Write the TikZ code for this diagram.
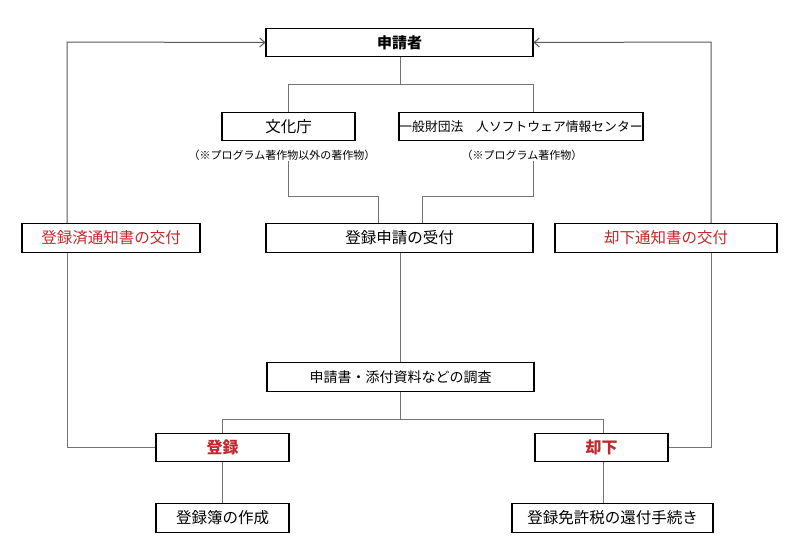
\documentclass[tikz,border=0pt]{standalone}
\usepackage{fontspec}
\setmainfont{Noto Sans CJK JP}
\usetikzlibrary{positioning,arrows.meta}
\definecolor{notered}{RGB}{192,40,45}
\tikzset{
  box/.style={draw, line width=1.1pt, inner sep=0pt, minimum height=28.5pt, font=\fontsize{15.5}{17}\selectfont},
  link/.style={draw=black!55, line width=0.9pt},
  back/.style={draw=black!65, line width=1pt, -{Straight Barb[length=5pt,width=9pt]}},
  note/.style={inner sep=1pt, font=\fontsize{11}{13}\selectfont}
}
\begin{document}
\begin{tikzpicture}[x=1pt, y=-1pt]
\useasboundingbox (0,0) rectangle (800,547);

% caixas de cima
\node[box, minimum width=267pt, font=\fontsize{15}{17}\selectfont\bfseries] (applicant) at (399.5,42.5) {申請者};
\node[box, minimum width=133pt] (bunka) at (288.5,126.5) {文化庁};
\node[box, minimum width=244pt, font=\fontsize{12.8}{15}\selectfont] (soft) at (521,126.5) {一般財団法　人ソフトウェア情報センター};
\node[note] (bunka-note) at (282,155) {（※プログラム著作物以外の著作物）};
\node[note] (soft-note) at (522,155) {（※プログラム著作物）};

% linha do meio
\node[box, minimum width=267pt] (accept) at (399.5,238) {登録申請の受付};
\node[box, minimum width=178pt, text=notered] (reg-notice) at (111,238) {登録済通知書の交付};
\node[box, minimum width=222pt, text=notered] (rej-notice) at (666,238) {却下通知書の交付};
\node[box, minimum width=267pt, font=\fontsize{14}{16}\selectfont] (check) at (400.5,377) {申請書・添付資料などの調査};

% caixas de baixo
\node[box, minimum width=133pt, text=notered, font=\fontsize{16}{18}\selectfont\bfseries] (reg) at (222.5,447.5) {登録};
\node[box, minimum width=133pt, text=notered, font=\fontsize{16}{18}\selectfont\bfseries] (rej) at (601.5,447.5) {却下};
\node[box, minimum width=133pt] (book) at (222.5,518) {登録簿の作成};
\node[box, minimum width=201pt] (refund) at (612.5,518) {登録免許税の還付手続き};

\coordinate (split-top) at (400,84);
\coordinate (join-left) at (378,196);
\coordinate (join-right) at (422,196);
\coordinate (split-bottom) at (400,419);
\coordinate (ret-left) at (67,42);
\coordinate (ret-right) at (711,42);

% ramos de cima
\draw[link] (applicant.south -| split-top) -- (split-top);
\draw[link] (split-top) -| (bunka.north);
\draw[link] (split-top) -| ([xshift=12pt]soft.north);
\draw[link] (bunka-note.south -| bunka) |- (join-left) -- (join-left |- accept.north);
\draw[link] ([xshift=12pt]soft.south |- soft-note.south) |- (join-right) -- (join-right |- accept.north);

% ramos de baixo
\draw[link] (accept.south -| split-bottom) -- (check.north -| split-bottom);
\draw[link] (check.south -| split-bottom) -- (split-bottom);
\draw[link] (split-bottom) -| (reg.north);
\draw[link] (split-bottom) -| ([xshift=1.5pt]rej.north);
\draw[link] (reg.south) -- (book.north);
\draw[link] ([xshift=1.5pt]rej.south) -- ([xshift=1.5pt]rej.south |- refund.north);

% voltas ao requerente
\draw[link] (reg.west) -| (reg-notice.south -| ret-left);
\draw[back] (reg-notice.north -| ret-left) -- (ret-left) -- (applicant.west);
\draw[link] (rej.east) -| (rej-notice.south -| ret-right);
\draw[back] (rej-notice.north -| ret-right) -- (ret-right) -- (applicant.east);

\end{tikzpicture}
\end{document}
